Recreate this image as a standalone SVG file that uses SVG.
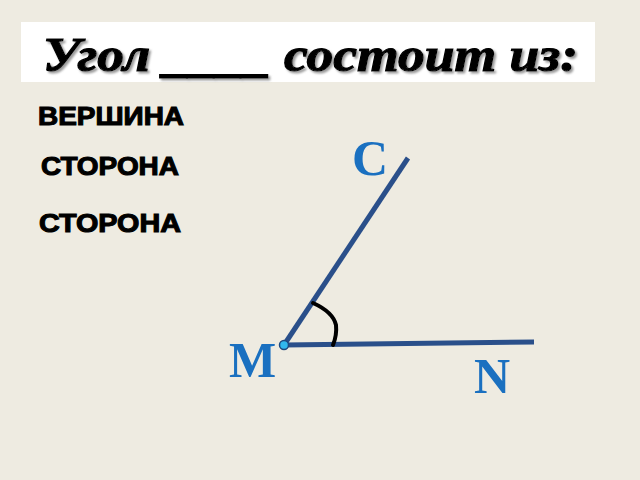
<svg xmlns="http://www.w3.org/2000/svg" width="640" height="480" viewBox="0 0 640 480">
<defs>
<style>
.title{font-family:"Liberation Serif",serif;font-weight:bold;font-style:italic;font-size:48px;fill:#000;stroke:#000;stroke-width:1.2;filter:url(#sh)}
.word{font-family:"Liberation Sans",Arial,sans-serif;font-weight:bold;font-size:26px;fill:#000;stroke:#000;stroke-width:1.1}
.lbl{font-family:"Liberation Serif",serif;font-weight:bold;font-size:50px;fill:#1a70c0}
.ray{stroke:#2a4f8a;stroke-width:5;stroke-linecap:butt;fill:none}
</style>
<filter id="sh" x="-5%" y="-20%" width="110%" height="140%">
<feDropShadow dx="2" dy="2" stdDeviation="1" flood-color="#808080" flood-opacity="0.8"/>
</filter>
</defs>
<rect width="640" height="480" fill="#eeebe1"/>
<g id="title">
<rect x="21" y="22" width="574" height="60" fill="#ffffff"/>
<text class="title" x="43" y="71" textLength="535" lengthAdjust="spacingAndGlyphs">Угол ____ состоит из:</text>
</g>
<g id="words">
<text class="word" x="38" y="125" textLength="146" lengthAdjust="spacingAndGlyphs">ВЕРШИНА</text>
<text class="word" x="41" y="175" textLength="138" lengthAdjust="spacingAndGlyphs">СТОРОНА</text>
<text class="word" x="39" y="232" textLength="142" lengthAdjust="spacingAndGlyphs">СТОРОНА</text>
</g>
<g id="connectors">
<line class="ray" x1="284" y1="345" x2="408" y2="158"/>
<line class="ray" x1="284" y1="345" x2="534" y2="342"/>
<path d="M313,303 Q333,312 336,325 Q337,335 333,345" fill="none" stroke="#000" stroke-width="4" stroke-linecap="round"/>
</g>
<g id="vertex-M">
<circle cx="284" cy="345" r="4.5" fill="#30b8ee" stroke="#1e4a80" stroke-width="1.5"/>
<text class="lbl" x="229" y="377">M</text>
</g>
<g id="point-C">
<text class="lbl" x="352" y="175">C</text>
</g>
<g id="point-N">
<text class="lbl" x="474" y="393">N</text>
</g>
</svg>
